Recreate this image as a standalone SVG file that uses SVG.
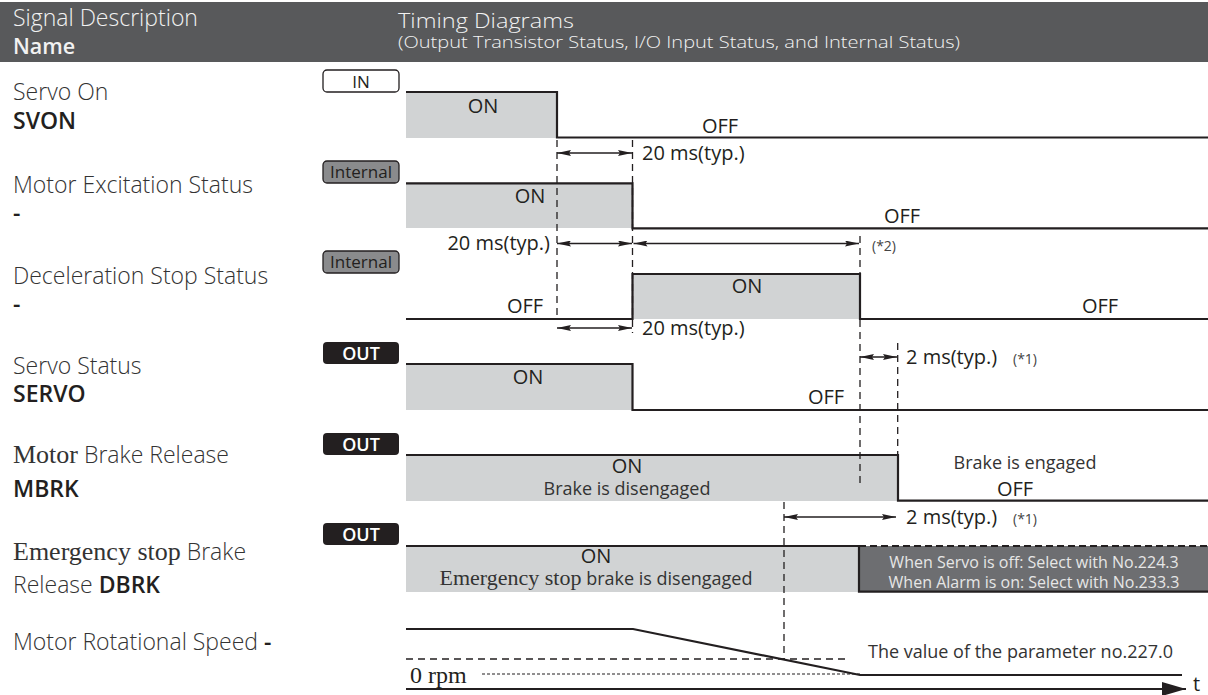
<svg xmlns="http://www.w3.org/2000/svg" width="1208" height="695" viewBox="0 0 1208 695">
<defs>
<style>
text{font-family:"Open Sans","Liberation Sans",sans-serif;fill:#333;}
.lbl{font-size:23px;font-weight:300;}
.bold{font-weight:600;fill:#231f20;}
.serif{font-family:"Liberation Serif","DejaVu Serif",serif;font-weight:400;}
.hdr{fill:#f2f2f2;}
.sig{fill:none;stroke:#231f20;stroke-width:2.2;}
.fill{fill:#d1d3d4;}
.st{font-size:20px;fill:#231f20;}
.sm{font-size:18px;fill:#333;}
.note{font-size:14px;fill:#444;}
.dash{stroke:#231f20;stroke-width:1.3;stroke-dasharray:7 5;fill:none;}
.arr{stroke:#231f20;stroke-width:1.3;fill:none;marker-start:url(#ah);marker-end:url(#ah);}
.tag{font-size:17px;text-anchor:middle;fill:#231f20;}
.w{fill:#fff;font-weight:600;font-size:18px;}
.lt{fill:#e6e6e6;font-size:16px;text-anchor:middle;}
</style>
<marker id="ah" viewBox="0 0 14 6" refX="14" refY="3" markerWidth="14" markerHeight="6" markerUnits="userSpaceOnUse" orient="auto-start-reverse">
<path d="M0,0 L14,3 L0,6 L2,3 z" fill="#231f20"/>
</marker>
<marker id="axh" viewBox="0 0 24 14" refX="24" refY="7" markerWidth="24" markerHeight="14" markerUnits="userSpaceOnUse" orient="auto">
<path d="M0,0 L24,7 L0,14 z" fill="#231f20"/>
</marker>
</defs>
<rect width="1208" height="695" fill="#fff"/>

<g id="header">
<rect x="0" y="2" width="1208" height="60" fill="#58595b"/>
<text class="hdr" x="13" y="26" font-size="23" font-weight="300">Signal Description<tspan x="13" y="54" font-size="21.5" font-weight="600">Name</tspan></text>
<text class="hdr" x="398" y="28" font-size="21" font-weight="300" textLength="176" lengthAdjust="spacingAndGlyphs">Timing Diagrams</text>
<text class="hdr" x="398" y="48" font-size="16.5" font-weight="300" textLength="562" lengthAdjust="spacingAndGlyphs">(Output Transistor Status, I/O Input Status, and Internal Status)</text>
</g>

<g id="svon">
<text class="lbl" x="13" y="100">Servo On<tspan class="bold" x="13" y="129">SVON</tspan></text>
<rect x="323" y="70" width="76" height="22" rx="4" fill="#fff" stroke="#231f20" stroke-width="1.3"/>
<text class="tag" x="361" y="88">IN</text>
<rect class="fill" x="406" y="92" width="151" height="46"/>
<polyline class="sig" points="406,92 557,92 557,137.5 1208,137.5"/>
<text class="st" x="483" y="113" text-anchor="middle">ON</text>
<text class="st" x="720" y="133" text-anchor="middle">OFF</text>
</g>

<g id="excitation">
<text class="lbl" x="13" y="193">Motor Excitation Status<tspan class="bold" x="13" y="221">-</tspan></text>
<rect x="323" y="161" width="76" height="22" rx="4" fill="#8a8b8d" stroke="#231f20" stroke-width="1.3"/>
<text class="tag" x="361" y="178">Internal</text>
<rect class="fill" x="406" y="183" width="226" height="45"/>
<polyline class="sig" points="406,183.3 632.5,183.3 632.5,228.3 1208,228.3"/>
<text class="st" x="530" y="203" text-anchor="middle">ON</text>
<text class="st" x="902" y="223" text-anchor="middle">OFF</text>
</g>

<g id="deceleration">
<text class="lbl" x="13" y="284">Deceleration Stop Status<tspan class="bold" x="13" y="312">-</tspan></text>
<rect x="323" y="251" width="76" height="22" rx="4" fill="#8a8b8d" stroke="#231f20" stroke-width="1.3"/>
<text class="tag" x="361" y="268">Internal</text>
<rect class="fill" x="632.5" y="274" width="227.5" height="45"/>
<polyline class="sig" points="406,319 632.5,319 632.5,274 860,274 860,319 1208,319"/>
<text class="st" x="747" y="293" text-anchor="middle">ON</text>
<text class="st" x="525" y="313" text-anchor="middle">OFF</text>
<text class="st" x="1100" y="313" text-anchor="middle">OFF</text>
</g>

<g id="servo">
<text class="lbl" x="13" y="374">Servo Status<tspan class="bold" x="13" y="402">SERVO</tspan></text>
<rect x="323" y="342" width="76" height="22" rx="4" fill="#231f20"/>
<text class="tag w" x="361" y="360">OUT</text>
<rect class="fill" x="406" y="364" width="226.5" height="46"/>
<polyline class="sig" points="406,364 632.5,364 632.5,410 1208,410"/>
<text class="st" x="528" y="384" text-anchor="middle">ON</text>
<text class="st" x="826" y="404" text-anchor="middle">OFF</text>
</g>

<g id="mbrk">
<text class="lbl" x="13" y="463"><tspan class="serif" font-size="26">Motor</tspan> Brake Release<tspan class="bold" x="13" y="497">MBRK</tspan></text>
<rect x="323" y="433" width="76" height="22" rx="4" fill="#231f20"/>
<text class="tag w" x="361" y="451">OUT</text>
<rect class="fill" x="406" y="455" width="492" height="46"/>
<polyline class="sig" points="406,455 898,455 898,500.7 1208,500.7"/>
<text class="st" x="627" y="473" text-anchor="middle">ON<tspan class="sm" x="627" y="495">Brake is disengaged</tspan></text>
<text class="sm" x="1025" y="469" text-anchor="middle">Brake is engaged</text>
<text class="st" x="1015" y="496" text-anchor="middle">OFF</text>
</g>

<g id="dbrk">
<text class="lbl" x="13" y="560"><tspan class="serif" font-size="26">Emergency stop</tspan> Brake<tspan x="13" y="593">Release </tspan><tspan class="bold">DBRK</tspan></text>
<rect x="323" y="523" width="76" height="22" rx="4" fill="#231f20"/>
<text class="tag w" x="361" y="541">OUT</text>
<rect class="fill" x="406" y="546" width="453" height="46"/>
<rect x="859" y="546" width="349" height="45.7" fill="#6d6e71"/>
<polyline class="sig" points="406,546 859,546 859,591.7 1208,591.7"/>
<line x1="859" y1="546" x2="1208" y2="546" stroke="#231f20" stroke-width="2.2" stroke-dasharray="7 4"/>
<text class="st" x="596" y="563" text-anchor="middle">ON<tspan class="sm" x="596" y="585"><tspan class="serif" font-size="22">Emergency stop</tspan> brake is disengaged</tspan></text>
<text class="lt" x="1034" y="568">When Servo is off: Select with No.224.3<tspan x="1034" y="588">When Alarm is on: Select with No.233.3</tspan></text>
</g>

<g id="speed">
<text class="lbl" x="13" y="650">Motor Rotational Speed <tspan class="bold">-</tspan></text>
<polyline class="sig" points="406,629 633,629 860,675 1182,675"/>
<line x1="406" y1="659" x2="847" y2="659" stroke="#231f20" stroke-width="1.3" stroke-dasharray="7 5"/>
<line x1="482" y1="674" x2="860" y2="674" stroke="#231f20" stroke-width="1.1" stroke-dasharray="3 2"/>
<text class="serif" x="410" y="683" font-size="24" style="fill:#231f20">0 rpm</text>
<text class="sm" x="868" y="658">The value of the parameter no.227.0</text>
<line x1="406" y1="689" x2="1186" y2="689" stroke="#231f20" stroke-width="2.2" marker-end="url(#axh)"/>
<text class="st" x="1193" y="691" font-size="19">t</text>
</g>

<g id="connectors">
<line class="dash" x1="557" y1="140" x2="557" y2="318"/>
<line class="dash" x1="632.5" y1="140" x2="632.5" y2="333"/>
<line class="dash" x1="860" y1="236" x2="860" y2="486"/>
<line class="dash" x1="897.7" y1="343" x2="897.7" y2="455"/>
<line class="dash" x1="784" y1="502" x2="784" y2="659"/>

<line class="arr" x1="557" y1="153" x2="632" y2="153"/>
<text class="st" x="642" y="160">20 ms(typ.)</text>

<line class="arr" x1="557" y1="243.5" x2="632" y2="243.5"/>
<text class="st" x="550" y="250" text-anchor="end">20 ms(typ.)</text>
<line class="arr" x1="633.5" y1="243.5" x2="859" y2="243.5"/>
<text class="note" x="872" y="251">(*2)</text>

<line class="arr" x1="557" y1="328" x2="632" y2="328"/>
<text class="st" x="642" y="335">20 ms(typ.)</text>

<line class="arr" x1="860" y1="357" x2="897" y2="357"/>
<text class="st" x="906" y="364">2 ms(typ.)</text>
<text class="note" x="1013" y="364">(*1)</text>

<line class="arr" x1="784" y1="517" x2="896" y2="517"/>
<text class="st" x="906" y="524">2 ms(typ.)</text>
<text class="note" x="1013" y="524">(*1)</text>
</g>
</svg>
